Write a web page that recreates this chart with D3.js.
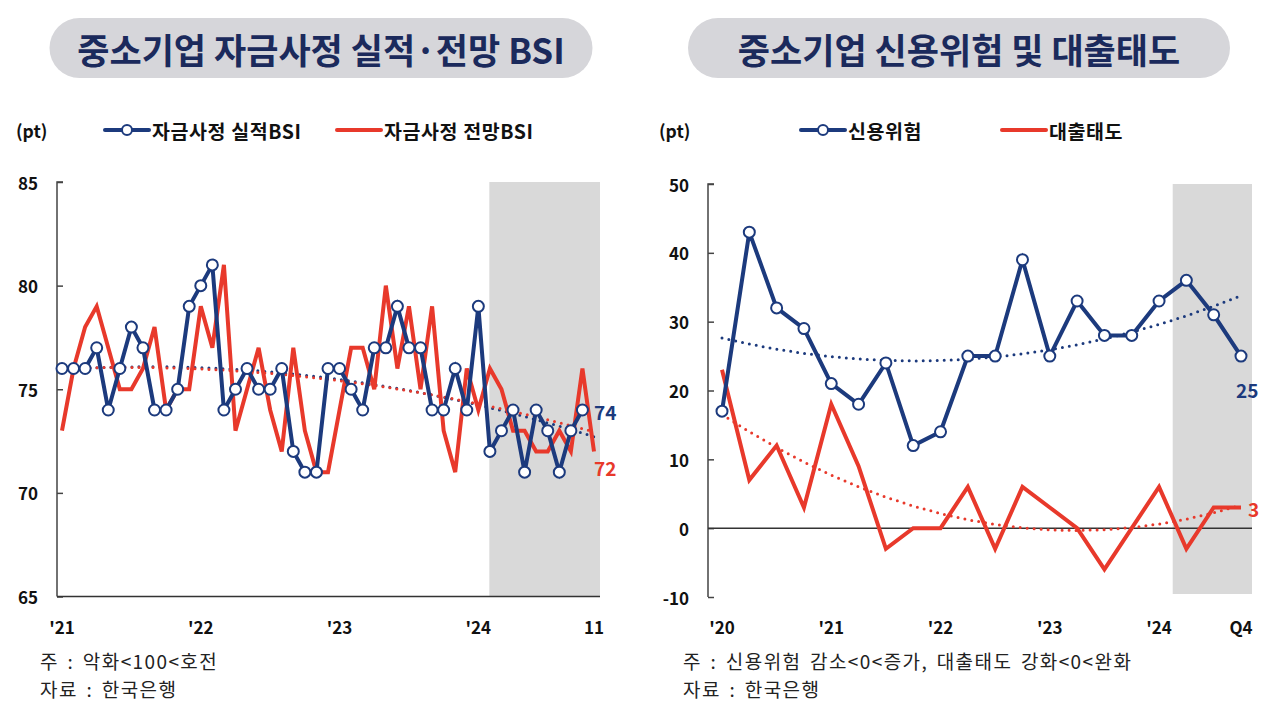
<!DOCTYPE html>
<html><head><meta charset="utf-8">
<script src="https://cdn.jsdelivr.net/npm/d3@7"></script>
<style>
html,body{margin:0;padding:0;background:#fff;}
svg{display:block;font-family:"Noto Sans CJK KR","Noto Sans",sans-serif;}
</style></head>
<body>
<svg id="c" width="1280" height="712"></svg>
<script>
// ---------- DATA ----------
const leftTitle = "중소기업 자금사정 실적·전망 BSI";
const rightTitle = "중소기업 신용위험 및 대출태도";
const leftSeriesNames = ["자금사정 실적BSI", "자금사정 전망BSI"];
const rightSeriesNames = ["신용위험", "대출태도"];

// months Jan 2021 .. Nov 2024
const leftMonths = [];
for (let y = 2021; y <= 2024; y++) for (let m = 1; m <= 12; m++) {
  if (y === 2024 && m > 11) break;
  leftMonths.push(y + "-" + String(m).padStart(2, "0"));
}
// 실적 BSI (Jan 2021 .. Oct 2024)
const actualBSI = [76,76,76,77,74,76,78,77,74,74,75,79,
                   80,81,74,75,76,75,75,76,72,71,71,76,
                   76,75,74,77,77,79,77,77,74,74,76,74,
                   79,72,73,74,71,74,73,71,73,74];
// 전망 BSI (Jan 2021 .. Nov 2024)
const outlookBSI = [73,76,78,79,77,75,75,76,78,74,75,75,
                    79,77,81,73,75,77,74,72,77,73,71,71,
                    74,77,77,75,80,76,79,75,79,73,71,76,
                    74,76,75,73,73,72,72,73,72,76,72];
const leftTickCats = ["2021-01","2022-01","2023-01","2024-01","2024-11"];
const leftTickLabels = ["'21","'22","'23","'24","11"];
const leftYTicks = [65,70,75,80,85];
const leftShadeFrom = "2024-02";
const leftNote = ["주 : 악화<100<호전", "자료 : 한국은행"];

const rightQuarters = [];
for (let y = 2020; y <= 2024; y++) for (let q = 1; q <= 4; q++) rightQuarters.push(y + "Q" + q);
const creditRisk = [17,43,32,29,21,18,24,12,14,25,25,39,25,33,28,28,33,36,31,25];
const lendingAttitude = [23,7,12,3,18,9,-3,0,0,6,-3,6,3,0,-6,0,6,-3,3,3];
const rightTickCats = ["2020Q1","2021Q1","2022Q1","2023Q1","2024Q1","2024Q4"];
const rightTickLabels = ["'20","'21","'22","'23","'24","Q4"];
const rightYTicks = [-10,0,10,20,30,40,50];
const rightShadeFrom = "2024Q1";
const rightNote = ["주 : 신용위험 감소<0<증가, 대출태도 강화<0<완화", "자료 : 한국은행"];

// ---------- STYLE ----------
const NAVY = "#1c3a7d", RED = "#e8392b", TITLE = "#1b2a5c", SHADE = "#d9d9d9";
const svg = d3.select("#c");

// quadratic least-squares trend
function quadFit(vals) {
  let s = [0,0,0,0,0], t = [0,0,0];
  vals.forEach((v, i) => {
    const p = [1, i, i*i, i*i*i, i*i*i*i];
    for (let k = 0; k < 5; k++) s[k] += p[k];
    t[0] += v; t[1] += v*i; t[2] += v*i*i;
  });
  const A = [[s[0],s[1],s[2],t[0]],[s[1],s[2],s[3],t[1]],[s[2],s[3],s[4],t[2]]];
  for (let c = 0; c < 3; c++) {
    for (let r = c+1; r < 3; r++) {
      const f = A[r][c]/A[c][c];
      for (let k = c; k < 4; k++) A[r][k] -= f*A[c][k];
    }
  }
  const x = [0,0,0];
  for (let r = 2; r >= 0; r--) {
    let v = A[r][3];
    for (let k = r+1; k < 3; k++) v -= A[r][k]*x[k];
    x[r] = v/A[r][r];
  }
  return i => x[0] + x[1]*i + x[2]*i*i;
}

function titlePill(cx, w, text) {
  const g = svg.append("g");
  g.append("rect").attr("x", cx - w/2).attr("y", 18).attr("width", w).attr("height", 60)
    .attr("rx", 30).attr("fill", "#d6d6da");
  g.append("text").attr("x", cx).attr("y", 48).attr("text-anchor", "middle")
    .attr("dominant-baseline", "central").attr("font-size", 35).attr("font-weight", 700)
    .attr("fill", TITLE).text(text);
}

function legendItem(x, y, color, marker, label) {
  svg.append("line").attr("x1", x).attr("x2", x + 44).attr("y1", y).attr("y2", y)
    .attr("stroke", color).attr("stroke-width", 4).attr("stroke-linecap", "round");
  if (marker) svg.append("circle").attr("cx", x + 22).attr("cy", y).attr("r", 5)
    .attr("fill", "#fff").attr("stroke", color).attr("stroke-width", 2);
  svg.append("text").attr("x", x + 47).attr("y", y).attr("dominant-baseline", "central")
    .attr("font-size", 19.5).attr("font-weight", 700).attr("fill", "#111")
    .attr("letter-spacing", 0.6).text(label);
}

function drawPanel(o) {
  const x = d3.scalePoint().domain(o.cats).range([o.x0, o.x1]);
  const y = d3.scaleLinear().domain(o.yDomain).range([o.yBottom, o.yTop]);
  const step = x.step();
  // shade
  const sx = x(o.shadeFrom) + o.shadeOffset * step;
  svg.append("rect").attr("x", sx).attr("y", o.yTop).attr("width", o.plotRight - sx)
    .attr("height", o.shadeBottom - o.yTop).attr("fill", SHADE);

  // y axis
  const ya = svg.append("g").attr("transform", `translate(${o.axisX},0)`)
    .call(d3.axisRight(y).tickValues(o.yTicks).tickSize(6).tickFormat(""));
  ya.select(".domain").attr("stroke", "#444").attr("stroke-width", 1.5)
    .attr("d", `M6,${o.yTop}H0V${o.yBottom}`);
  ya.selectAll(".tick line").attr("stroke", "#444").attr("stroke-width", 1.5);
  o.yTicks.forEach(v => {
    svg.append("text").attr("x", o.yLabelX).attr("y", y(v)).attr("text-anchor", "end")
      .attr("dominant-baseline", "central").attr("font-size", 17).attr("font-weight", 700)
      .attr("fill", "#111").text(v);
  });
  // baseline
  if (o.baseline !== undefined) {
    svg.append("line").attr("x1", o.axisX).attr("x2", o.plotRight)
      .attr("y1", y(o.baseline)).attr("y2", y(o.baseline)).attr("stroke", "#333").attr("stroke-width", 1.5);
  }
  // x labels
  o.tickCats.forEach((c, i) => {
    svg.append("text").attr("x", x(c)).attr("y", 626).attr("text-anchor", "middle")
      .attr("dominant-baseline", "central").attr("font-size", 17).attr("font-weight", 700)
      .attr("fill", "#111").text(o.tickLabels[i]);
  });

  // trends
  o.series.forEach(s => {
    const f = quadFit(s.values);
    const n = s.trendLen;
    const pts = d3.range(n).map(i => [x(o.cats[i]), y(f(i))]);
    svg.append("path").attr("d", d3.line()(pts)).attr("fill", "none")
      .attr("stroke", s.color).attr("stroke-width", 3).attr("stroke-linecap", "round")
      .attr("stroke-dasharray", "0 7");
  });
  // lines
  o.series.slice().reverse().forEach(s => {
    const line = d3.line().x((d, i) => x(o.cats[i])).y(d => y(d));
    svg.append("path").attr("d", line(s.values)).attr("fill", "none")
      .attr("stroke", s.color).attr("stroke-width", 4).attr("stroke-linejoin", "miter");
    if (s.marker) {
      svg.append("g").selectAll("circle").data(s.values).join("circle")
        .attr("cx", (d, i) => x(o.cats[i])).attr("cy", d => y(d)).attr("r", 5.5)
        .attr("fill", "#fff").attr("stroke", s.color).attr("stroke-width", 2);
    }
  });
  // end labels
  o.series.forEach(s => {
    const last = s.values[s.values.length - 1];
    svg.append("text").attr("x", s.labelPos[0]).attr("y", s.labelPos[1])
      .attr("dominant-baseline", "central").attr("font-size", 19).attr("font-weight", 700)
      .attr("fill", s.color).text(last);
  });
  // unit
  svg.append("text").attr("x", o.unitX).attr("y", 130).attr("dominant-baseline", "central")
    .attr("font-size", 17.5).attr("font-weight", 700).attr("fill", "#111").text("(pt)");
  // notes
  o.notes.forEach((t, i) => {
    svg.append("text").attr("x", o.noteX).attr("y", 660 + i * 28).attr("dominant-baseline", "central")
      .attr("font-size", 19).attr("letter-spacing", 1.4).attr("word-spacing", 3)
      .attr("fill", "#222").text(t);
  });
}

titlePill(321, 543, leftTitle);
titlePill(959, 542, rightTitle);

legendItem(105, 130, NAVY, true, leftSeriesNames[0]);
legendItem(337, 130, RED, false, leftSeriesNames[1]);
legendItem(801, 130, NAVY, true, rightSeriesNames[0]);
legendItem(1002, 130, RED, false, rightSeriesNames[1]);

drawPanel({
  cats: leftMonths, x0: 62, x1: 594, plotRight: 600, axisX: 57,
  yDomain: [65, 85], yTop: 182, yBottom: 596.5, yTicks: leftYTicks, yLabelX: 38,
  shadeFrom: leftShadeFrom, shadeOffset: -0.05, shadeBottom: 596.5,
  baseline: 65, tickCats: leftTickCats, tickLabels: leftTickLabels,
  unitX: 16, noteX: 40, notes: leftNote,
  series: [
    {values: actualBSI, color: NAVY, marker: true, trendLen: 47, labelPos: [594, 411]},
    {values: outlookBSI, color: RED, marker: false, trendLen: 47, labelPos: [594, 467]}
  ]
});

drawPanel({
  cats: rightQuarters, x0: 722, x1: 1241, plotRight: 1252, axisX: 708,
  yDomain: [-10, 50], yTop: 184, yBottom: 597, yTicks: rightYTicks, yLabelX: 689,
  shadeFrom: rightShadeFrom, shadeOffset: 0.5, shadeBottom: 594,
  baseline: 0, tickCats: rightTickCats, tickLabels: rightTickLabels,
  unitX: 659, noteX: 683, notes: rightNote,
  series: [
    {values: creditRisk, color: NAVY, marker: true, trendLen: 20, labelPos: [1236, 389]},
    {values: lendingAttitude, color: RED, marker: false, trendLen: 20, labelPos: [1248, 508]}
  ]
});
</script>
</body></html>
